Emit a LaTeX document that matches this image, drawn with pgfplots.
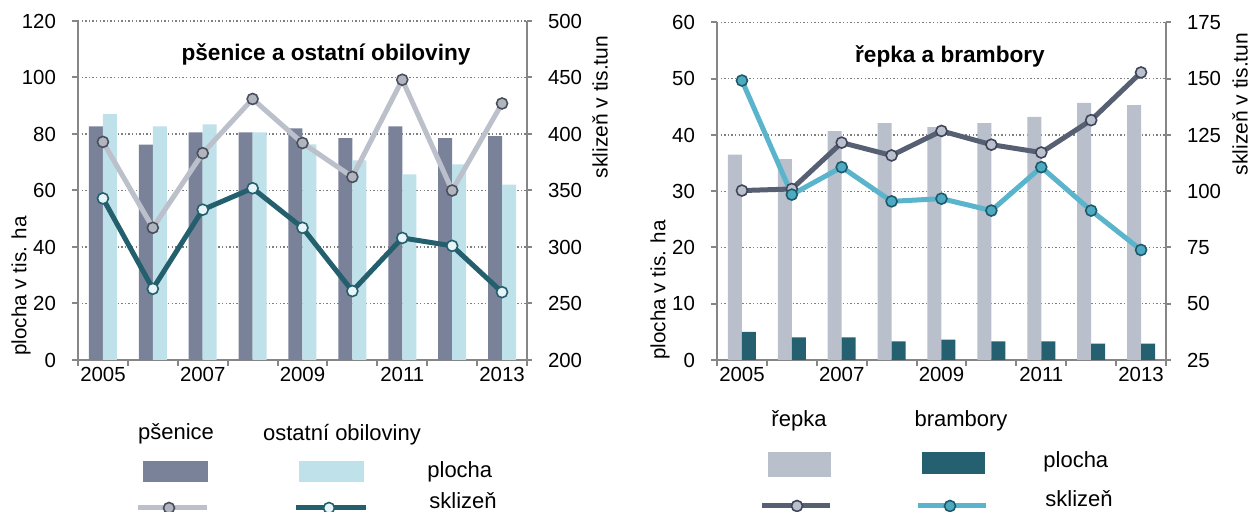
\documentclass[border=0pt]{standalone}
\usepackage{pgfplots}
\pgfplotsset{compat=1.18}
\usepackage{fontspec}
\setmainfont{Liberation Sans}
\definecolor{axgray}{HTML}{868686}
\definecolor{gridgray}{HTML}{7F7F7F}
\definecolor{psbar}{HTML}{7A8299}
\definecolor{obbar}{HTML}{BEE1EA}
\definecolor{psline}{HTML}{BBC0CB}
\definecolor{psmark}{HTML}{B0B5C0}
\definecolor{psmarkdraw}{HTML}{4A4F5C}
\definecolor{obline}{HTML}{235F6D}
\definecolor{obmark}{HTML}{E8F5F8}
\definecolor{rebar}{HTML}{B9C0CC}
\definecolor{brbar}{HTML}{246070}
\definecolor{reline}{HTML}{575F72}
\definecolor{remark}{HTML}{BAC0CC}
\definecolor{remarkdraw}{HTML}{40465A}
\definecolor{brline}{HTML}{5AB4CB}
\definecolor{brmark}{HTML}{4DAAC2}
\definecolor{brmarkdraw}{HTML}{1E5A69}
\pgfplotsset{
  base/.style={
    scale only axis, width=224.5pt,
    xmin=-0.5, xmax=8.5,
    /pgf/number format/assume math mode=true,
    tick label style={font=\fontsize{10.2}{12}\selectfont, text=black},
    axis line style={-, draw=axgray, line width=1.1pt},
    tick style={draw=axgray, line width=1pt},
    tick align=outside,
  },
  leftax/.style={
    base,
    axis y line*=left, axis x line*=bottom,
    ytick pos=left,
    xtick={-0.5,0.5,...,8.5},
    xticklabels={2005,,2007,,2009,,2011,,2013},
    x tick label as interval,
    major x tick style={line width=1pt},
    xticklabel style={yshift=3pt},
    major tick length=3pt,
    ymajorgrids,
    grid style={draw=gridgray, line width=0.7pt, dash pattern=on 0.7pt off 1.1pt},
    yticklabel style={xshift=-4.5pt},
  },
  rightax/.style={
    base,
    axis y line*=right, axis x line=none,
    ytick pos=right,
    major tick length=2.5pt,
    yticklabel style={xshift=4.5pt},
  },
}
\begin{document}
\begin{tikzpicture}
\useasboundingbox (0pt,0pt) rectangle (625pt,256pt);
\clip (0pt,0pt) rectangle (625pt,256pt);

% ---------- left chart: bars ----------
\begin{axis}[leftax, at={(39pt,76pt)}, anchor=south west, height=169.5pt,
  ymin=0, ymax=120, ytick={0,20,...,120}]
\addplot[ybar, bar width=7pt, bar shift=-3.5pt, fill=psbar, draw=none]
  coordinates {(0,82.7)(1,76.2)(2,80.6)(3,80.6)(4,82.0)(5,78.5)(6,82.7)(7,78.5)(8,79.2)};
\addplot[ybar, bar width=7pt, bar shift=3.5pt, fill=obbar, draw=none]
  coordinates {(0,87.0)(1,82.7)(2,83.4)(3,80.6)(4,76.3)(5,70.7)(6,65.7)(7,69.2)(8,62.1)};
\end{axis}
% ---------- left chart: lines ----------
\begin{axis}[rightax, at={(39pt,76pt)}, anchor=south west, height=169.5pt,
  ymin=200, ymax=500, ytick={200,250,...,500}]
\addplot[psline, line width=2.5pt, mark=*, mark size=2.75pt,
  mark options={fill=psmark, draw=psmarkdraw, line width=0.8pt}]
  coordinates {(0,393)(1,317)(2,383)(3,431)(4,392)(5,362)(6,448)(7,350)(8,427)};
\addplot[obline, line width=2.5pt, mark=*, mark size=2.75pt,
  mark options={fill=obmark, draw=obline, line width=0.8pt}]
  coordinates {(0,343)(1,263)(2,333)(3,352)(4,317)(5,261)(6,308)(7,301)(8,260)};
\end{axis}

% ---------- right chart: bars ----------
\begin{axis}[leftax, at={(358.5pt,76pt)}, anchor=south west, height=168.75pt,
  ymin=0, ymax=60, ytick={0,10,...,60}]
\addplot[ybar, bar width=7pt, bar shift=-3.5pt, fill=rebar, draw=none]
  coordinates {(0,36.5)(1,35.7)(2,40.7)(3,42.1)(4,41.4)(5,42.1)(6,43.2)(7,45.7)(8,45.3)};
\addplot[ybar, bar width=7pt, bar shift=3.5pt, fill=brbar, draw=none]
  coordinates {(0,5.0)(1,4.0)(2,4.0)(3,3.3)(4,3.6)(5,3.3)(6,3.3)(7,2.9)(8,2.9)};
\end{axis}
% ---------- right chart: lines ----------
\begin{axis}[rightax, at={(358.5pt,76pt)}, anchor=south west, height=168.75pt,
  ymin=25, ymax=175, ytick={25,50,...,175}]
\addplot[reline, line width=2.5pt, mark=*, mark size=2.75pt,
  mark options={fill=remark, draw=remarkdraw, line width=0.8pt}]
  coordinates {(0,100.3)(1,101.0)(2,121.6)(3,115.9)(4,126.8)(5,120.7)(6,117.2)(7,131.6)(8,152.8)};
\addplot[brline, line width=2.5pt, mark=*, mark size=2.75pt,
  mark options={fill=brmark, draw=brmarkdraw, line width=0.8pt}]
  coordinates {(0,149.2)(1,98.5)(2,110.7)(3,95.5)(4,96.7)(5,91.4)(6,110.7)(7,91.4)(8,73.9)};
\end{axis}

% ---------- titles and axis labels ----------
\node[font=\fontsize{11.3}{13}\selectfont\bfseries] at (163pt,229pt) {pšenice a ostatní obiloviny};
\node[font=\fontsize{11.3}{13}\selectfont\bfseries] at (475pt,228pt) {řepka a brambory};
\node[rotate=90, font=\fontsize{10.3}{12}\selectfont] at (10.5pt,113pt) {plocha v tis. ha};
\node[rotate=90, font=\fontsize{10.5}{12}\selectfont] at (300pt,202.5pt) {sklizeň v tis.tun};
\node[rotate=90, font=\fontsize{10.3}{12}\selectfont] at (330pt,111pt) {plocha v tis. ha};
\node[rotate=90, font=\fontsize{10.5}{12}\selectfont] at (620pt,204pt) {sklizeň v tis.tun};

% ---------- legend left ----------
\begin{scope}[every node/.style={font=\fontsize{11}{13}\selectfont, inner sep=0pt}]
\node[anchor=base] at (88pt,36pt) {pšenice};
\node[anchor=base] at (171pt,35.5pt) {ostatní obiloviny};
\fill[psbar] (71.5pt,15pt) rectangle (104pt,25.5pt);
\fill[obbar] (149.5pt,15pt) rectangle (182pt,25.5pt);
\node[anchor=base west] at (213.5pt,17pt) {plocha};
\draw[psline, line width=2.5pt] (69pt,2pt) -- (103.5pt,2pt);
\draw[fill=psmark, draw=psmarkdraw, line width=0.8pt] (84.5pt,2pt) circle (2.75pt);
\draw[obline, line width=2.5pt] (148pt,2pt) -- (183pt,2pt);
\draw[fill=obmark, draw=obline, line width=0.8pt] (164.5pt,2pt) circle (2.75pt);
\node[anchor=base west] at (214.5pt,1.5pt) {sklizeň};

% ---------- legend right ----------
\node[anchor=base] at (399.5pt,42.5pt) {řepka};
\node[anchor=base] at (480.5pt,42.5pt) {brambory};
\fill[rebar] (384pt,17.5pt) rectangle (415.5pt,30pt);
\fill[brbar] (461pt,19pt) rectangle (492.5pt,30pt);
\node[anchor=base west] at (521.5pt,22pt) {plocha};
\draw[reline, line width=2.5pt] (381pt,3pt) -- (415pt,3pt);
\draw[fill=remark, draw=remarkdraw, line width=0.8pt] (398.5pt,3pt) circle (2.75pt);
\draw[brline, line width=2.5pt] (459pt,3pt) -- (493pt,3pt);
\draw[fill=brmark, draw=brmarkdraw, line width=0.8pt] (475pt,3pt) circle (2.75pt);
\node[anchor=base west] at (522.5pt,2.5pt) {sklizeň};
\end{scope}
\end{tikzpicture}
\end{document}
